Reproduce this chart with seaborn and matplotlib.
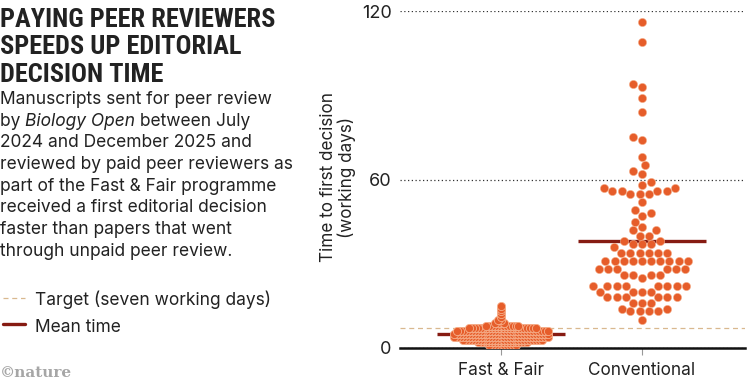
import numpy as np
import pandas as pd
import seaborn as sns
import matplotlib.pyplot as plt
from matplotlib.lines import Line2D

groups = ["Fast & Fair", "Conventional"]

# Fast & Fair: working days to first decision, with number of manuscripts
ff_days = [1, 2, 3, 4, 5, 6, 7, 8, 9, 10, 11, 12, 13, 14, 15]
ff_count = [10, 18, 28, 33, 33, 32, 24, 12, 4, 2, 1, 1, 1, 1, 1]

# Conventional (unpaid) review, one value per manuscript
conv_days = [116, 109, 94, 93, 89, 84, 75, 74, 68, 65, 63, 62, 59, 58, 57, 57,
             56, 56, 56, 56, 55, 55, 55, 52, 49, 48, 47, 45, 43, 42, 42, 40,
             40, 38, 38, 37, 37, 37, 36,
             34, 34, 34, 34, 34, 34,
             31, 31, 31, 31, 31, 31, 31, 31, 31, 31,
             28, 28, 28, 28, 28, 28, 26, 26, 26, 26, 25,
             22, 22, 22, 22, 22, 22, 22, 22, 20, 20, 20, 20,
             18, 18, 18, 18, 18, 18, 16, 16, 16, 14, 14, 13, 13, 13, 13, 10]

target_days = 7
yticks = [0, 60, 120]

orange = "#e65d2a"
edge = "#f6b08c"
dark_red = "#861b12"
tan = "#d9b88f"
ink = "#222222"

W, H = 751, 380

sns.set_theme(style="white")
plt.rcParams["font.family"] = ["Inter", "DejaVu Sans"]

fig = plt.figure(figsize=(W / 100, H / 100), dpi=100)
ax = fig.add_axes([400 / W, 1 - 348 / H, 345 / W, 337 / H])

ff_all = list(np.repeat(ff_days, ff_count))
df = pd.DataFrame({
    "group": ["Fast & Fair"] * len(ff_all) + ["Conventional"] * len(conv_days),
    "days": ff_all + conv_days,
})

ax.axhline(target_days, color=tan, lw=0.9, ls=(0, (4, 3)), zorder=1)
means = df.groupby("group")["days"].mean()
for i, g in enumerate(groups):
    ax.hlines(means[g], i - 0.455, i + 0.455, color=dark_red, lw=2.4, zorder=2)

# small markers for the layout so each day forms its own row
sns.swarmplot(data=df[df.group == "Fast & Fair"], x="group", y="days",
              order=groups, size=1.6, color=orange, edgecolor=edge,
              linewidth=0.4, ax=ax, zorder=3)
ff_pts = [c for c in ax.collections if "draw" in vars(c)]
sns.swarmplot(data=df[df.group == "Conventional"], x="group", y="days",
              order=groups, size=5.9, color=orange, edgecolor=edge,
              linewidth=0.4, ax=ax, zorder=3)

ax.set_xlim(-0.716, 1.73)
ax.set_ylim(0, 120)
ax.set_yticks(yticks)
ax.set_xlabel("")
ax.set_ylabel("")
ax.yaxis.grid(True, ls=(0, (1, 2)), color="#333333", lw=0.9)
ax.xaxis.grid(False)
for s in ["left", "right", "top"]:
    ax.spines[s].set_visible(False)
ax.spines["bottom"].set_color("#111111")
ax.spines["bottom"].set_linewidth(1.8)
ax.tick_params(axis="y", left=False, length=0, pad=6, labelsize=13,
               labelcolor=ink)
ax.tick_params(axis="x", bottom=True, length=5, width=0.8, color="#999999",
               pad=5, labelsize=12.4, labelcolor=ink)

fig.text(338 / W, 1 - 177 / H, "Time to first decision\n(working days)",
         rotation=90, ha="center", va="center", fontsize=12.3, color=ink,
         linespacing=1.05)

# let the swarm settle, then draw the Fast & Fair dots full size so they overlap
fig.canvas.draw()
for c in ff_pts:
    del c.draw
    c.set_sizes([5.9 ** 2])
    c.set_linewidth(0.6)

title_font = ["Liberation Sans Narrow", "Roboto Condensed", "DejaVu Sans"]
for y, line in zip([27, 54.5, 82], ["PAYING PEER REVIEWERS",
                                    "SPEEDS UP EDITORIAL", "DECISION TIME"]):
    fig.text(0, 1 - y / H, line, fontsize=19, fontweight="black",
             fontstretch="condensed", family=title_font, color=ink,
             va="baseline", ha="left")

body = [
    [("Manuscripts sent for peer review", "normal")],
    [("by ", "normal"), ("Biology Open", "italic"), (" between July", "normal")],
    [("2024 and December 2025 and", "normal")],
    [("reviewed by paid peer reviewers as", "normal")],
    [("part of the Fast & Fair programme", "normal")],
    [("received a first editorial decision", "normal")],
    [("faster than papers that went", "normal")],
    [("through unpaid peer review.", "normal")],
]
renderer = fig.canvas.get_renderer()
for i, parts in enumerate(body):
    y = 104 + 21.7 * i
    x = 0
    for txt, style in parts:
        t = fig.text(x / W, 1 - y / H, txt, style=style, fontsize=12.5,
                     color=ink, va="baseline", ha="left")
        x += t.get_window_extent(renderer).width

fig.add_artist(Line2D([3 / W, 25 / W], [1 - 298 / H] * 2, color=tan, lw=0.9,
                      ls=(0, (4, 3))))
fig.text(35 / W, 1 - 305 / H, "Target (seven working days)", fontsize=12.5,
         color=ink, va="baseline")
fig.add_artist(Line2D([3 / W, 25 / W], [1 - 324 / H] * 2, color=dark_red,
                      lw=2.4))
fig.text(35 / W, 1 - 332 / H, "Mean time", fontsize=12.5, color=ink,
         va="baseline")

fig.text(0, 1 - 377 / H, "©nature", fontsize=11, fontweight="bold",
         family=["DejaVu Serif"], color="#a6a6a6", va="baseline")

fig.savefig("out.png", dpi=100)
